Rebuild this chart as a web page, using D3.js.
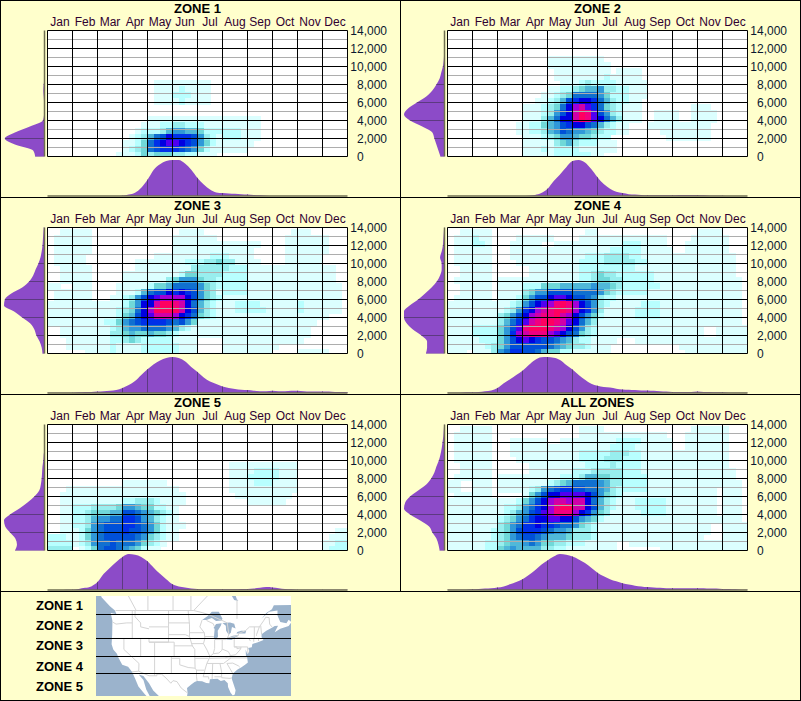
<!DOCTYPE html>
<html>
<head>
<meta charset="utf-8">
<style>
body { margin: 0; background: #ffffcc; }
text { font-family: "Liberation Sans", Arial, sans-serif; font-size: 12px; }
</style>
</head>
<body>
<svg id="svg"></svg>
<script src="https://d3js.org/d3.v7.min.js"></script>
<script>

const months = ["Jan","Feb","Mar","Apr","May","Jun","Jul","Aug","Sep","Oct","Nov","Dec"];
const yTicks = [0,2000,4000,6000,8000,10000,12000,14000];
const dotTicks = [1000,3000,5000,7000,9000,11000,13000];
const zoneNames = ["ZONE 1","ZONE 2","ZONE 3","ZONE 4","ZONE 5","ALL ZONES"];
const mapLabels = ["ZONE 1","ZONE 2","ZONE 3","ZONE 4","ZONE 5"];

// colour ramp, one hex digit per level in the heat rows below
const levelColors = ["#ffffff","#dcffff","#b8ffff","#98eeee","#70d8d8","#50b8d8","#3098d8","#1070d0",
  "#0050d8","#0030e8","#0000e0","#5000f0","#a000d8","#d000a8","#f00080","#ff0060"];

// heat rows, top (14,000) to bottom (0), 4 cells per month
const zone1Heat = ["","","","","","","","",
"0000 0000 0000 0000 0111 1111 1100",
"0000 0000 0000 0000 0111 1211 1100",
"0000 0000 0000 0000 0111 2221 1100",
"0000 0000 0000 0000 0111 1211 1100",
"","",
"0000 0000 0000 0000 1111 1111 1111 1111 1100",
"0000 0000 0000 0001 1122 3322 2111 1111 1100",
"0000 0000 0000 0012 2235 6655 4222 2221 1100",
"0000 0000 0000 0123 578a 9998 6321 2221 1100",
"0000 0000 0000 1124 79ab ba98 6421 1111 1000",
"0000 0000 0000 1234 7899 9876 4211 1111",
"0000 0000 0001 1124 3444 3322 1110"];

const zone2Heat = ["","","","",
"0000 0000 0000 0000 1111 1111 1000",
"0000 0000 0000 0000 1111 1111 1100",
"0000 0000 0000 0000 0111 1111 1101 1110",
"0000 0000 0000 0000 0111 1111 1211 1110",
"0000 0000 0000 0000 0011 1232 2221 1111",
"0000 0000 0000 0000 1122 3455 6332 2111",
"0000 0000 0000 0001 1234 7777 6422 2111",
"0000 0000 0000 0011 2358 9aa9 7532 2110",
"0000 0000 0000 1112 347a cdb9 7432 1110 0000 0001 1100",
"0000 0000 0000 1112 368a dfeb 8632 1110 0111 1001 1110",
"0000 0000 0000 1113 57aa dfeb a753 1110 0111 1001 1110",
"0000 0000 0001 1224 5689 aa87 5321 1000 1111 1111 1100",
"0000 0000 0001 1223 5687 6654 3221 1000 0011 1111 1100",
"0000 0000 0000 1112 3466 5443 2200 0000 0001 1111 1100",
"0000 0000 0000 1111 1345 3222 1110",
"0000 0000 0000 1112 1222 2111 1110",
"0000 0000 0000 1111 1222 2221 1000"];

const zone3Heat = [
"0011 1110 0000 0000 0000 0111 1000 0000 0000 0001 1100",
"0111 1110 0000 0000 0000 1111 1110 0000 0000 0011 1111 1000",
"0111 1110 0000 0000 0000 1111 1111 1111 1100 0011 1111 1000",
"0111 1110 0000 0000 0000 1111 1111 1111 1000 0011 1111 1000",
"0111 1100 0000 0000 0111 1111 1122 2111 1000 0011 1111 0000",
"0111 1100 0000 0011 1111 1122 2334 3311 1100 0011 1111 0000",
"0011 1110 0000 0011 1111 1113 3333 3222 1111 1111 1111 1100",
"0011 1110 0000 1111 1111 1244 3333 2222 1111 1111 1111 1100",
"0011 1110 0000 1111 1113 4666 4332 2222 1111 1111 1111 1100",
"1100 1110 0001 1111 2445 7777 6432 2222 1111 1111 1111 1110",
"0111 1110 0001 1125 788a 9a98 6431 2222 1111 1111 1111 1110",
"0111 1110 0011 2368 abcc cca8 6432 1111 1111 1111 1111 1110",
"1111 1111 1111 246a adff eda7 5321 1122 2211 1111 2111 1110",
"1111 1111 1112 347a cfff fda8 5321 1122 2221 1111 2111 1110",
"1111 1111 1112 458a bddd ca97 4321 1111 1111 1111 1111 1000",
"1111 1111 1224 6789 9998 7864 1111 1111 1111 1111 1110",
"0011 1111 1123 5667 7776 5321 1111 1111 1111 1111 1100",
"0011 1111 1133 4544 5443 2111 1111 1111 1111 1111 1100",
"0001 1111 1122 3432 2222 1111 0000 1111 1111 1111 1000",
"0001 1111 1121 1112 2222 2111 0000 1111 1111 1000",
"0000 0011 1121 1112 2222 2111 0000 1111 1111 0000 1111 1000"];

const zone4Heat = [
"0011 1110 0000 0000 0000 0011 0000 0000 0000 0000 1111",
"0111 2110 0001 1111 1000 0111 1111 1111 1110 0001 1111 1000",
"0111 2210 0011 1110 0111 1111 1111 2221 1110 0011 1111 1000",
"0111 1110 0011 1111 1111 1111 1122 2221 1111 0011 1111 1000",
"0111 1110 0011 1111 1111 1122 2333 3221 1111 1111 1111 1100",
"0111 1110 0001 1111 1111 1222 2333 3322 1111 1111 1111 1100",
"0011 1110 0000 0111 1111 1222 2222 2211 1111 1111 1111 1100",
"0011 1110 0000 0111 1111 1223 4332 2222 2111 1111 1111 1100",
"0111 1110 1111 1111 1111 1223 4433 2222 2111 1111 1111 1110",
"0011 1110 1111 2224 4455 5556 5543 2222 2211 1111 1111 1110",
"0011 1110 1111 3466 8888 7777 6432 2222 1111 1111 1111 1110",
"0111 1110 1112 4688 abba 8876 3221 1111 1111 1111 1111 1110",
"1111 1111 1123 68ab cefe ca86 3211 1112 2211 1111 1111 1110",
"1111 1111 1236 9acd effe ca96 3111 1122 2211 1111 1111 1110",
"1111 1111 3468 acde efdc a864 2111 1122 2211 1111 1111 1110",
"1111 1111 3579 bdef fedb a753 1111 1111 1111 1111 1111 1110",
"1111 2222 468b efff edca 8632 1111 1111 1111 1111 1001 1111",
"1111 2222 469c deee cba8 7432 1111 1111 1111 1111 1001 1111",
"1111 1222 468a ba98 8765 3221 1110 0011 1111 1111 1111 1111",
"1111 1123 4688 8888 7654 3321 1100 0000 0000 0111 1111 1111",
"1110 1113 6799 8875 4422 1111 1100 0000 0000 0011 1111 1111"];

const zone5Heat = ["","","","","","",
"0000 0000 0000 0000 0000 0000 0000 0111 1111 1111",
"0000 0000 0000 0000 0000 0000 0000 0111 1222 2111",
"0000 0000 0000 0000 0000 0000 0000 0111 2222 2111",
"0000 0000 0000 1111 1110 0000 0000 0111 1222 1111",
"0001 1111 1111 1111 1111 1000 0000 0111 1111 1111",
"0011 1111 1111 1111 1111 1100 0000 0011 1111 1110",
"0011 1111 1111 2233 3211 1100 0000 0000 1111 1100",
"0011 2223 3334 6654 4221 1000",
"0011 2234 4455 8876 5432 1000",
"0011 2235 6677 9986 5321 1000",
"0011 2236 7888 9987 6421 1100",
"0011 1246 7888 9887 6421 1000 0000 0000 0000 0000 0000 0011",
"2221 1246 7888 8876 4321 1000 0000 0000 0000 0000 0000 0111",
"2222 1236 7787 7764 3210 0000 0000 0000 0000 0000 0000 1122",
"3333 0124 7887 6542 1100 0000 0000 0000 0000 0000 0000 1222"];

const zone6Heat = [
"0011 1110 0000 0000 0000 0111 1000 0000 0000 0001 1111 1000",
"0111 1110 0000 0000 0000 0111 1111 1111 1110 0011 1111 1000",
"0111 1110 0011 1111 0011 1111 1112 2221 1111 0011 1111 1000",
"0111 1110 0011 1111 1111 1111 1122 2211 1111 0011 1111 1000",
"0111 1110 0011 1111 1111 1222 2233 3221 1111 1111 1111 1000",
"0111 1110 0001 1111 1111 1222 2333 2221 1111 1111 1111 1000",
"0011 1110 0000 0111 1111 1122 2232 2221 1111 1111 1111 1000",
"0011 1110 0000 0111 1111 2223 3333 2221 1111 1111 1111 1100",
"0111 1110 1111 1111 1122 2355 4433 2222 1111 1111 1111 1100",
"1100 1110 1111 1111 2345 7777 6533 2222 1111 1111 1111 1110",
"1100 1110 1111 1236 7899 8877 6532 2222 1111 1111 1110 1110",
"0111 1110 0000 1468 aabb bba8 6432 1111 1111 1111 1110 1110",
"1111 1111 1112 468a cddc dda7 5321 1122 2221 1111 1110 1110",
"1111 1111 1223 679a ceff dda8 5321 1122 2221 1111 1110 1110",
"1111 1111 1235 689b ceee ca96 4311 1112 2221 1111 1110 1110",
"1111 1111 2346 79aa bbaa 8654 2111 1111 1111 1111 1111 1110",
"1111 1111 3467 99a9 9877 6432 1111 1111 1111 1111 1100 1111",
"1111 1112 3468 9998 7665 3332 1111 1111 1111 1111 1100 1111",
"1111 1112 3467 8876 5554 3332 1111 1111 1111 1111 1000 1111",
"1111 1122 3455 6764 4332 2211 1110 0111 1111 1111 1111 1111",
"1111 1122 4565 5553 3221 1111 1110 0000 0011 1111 1111 1111"];

// share of the peak along the year, one value per quarter month
const zone1Month = [0,0,0,0,0,0,0,0,0,0,0,0,.01,.04,.09,.23,.45,.73,.88,.97,1,1,.9,.73,.5,.32,.18,.1,.08,.07,.06,.05,.04,.03,.02,.01,0,0,0,0,0,0,0,0,0,0,0,0,0];
const zone2Month = [0,0,0,0,0,0,0,0,0,0,0,0,0,.01,.03,.08,.2,.42,.6,.8,.97,1,.93,.75,.52,.33,.2,.12,.08,.05,.04,.03,.02,.02,.02,.02,.02,.03,.03,.03,.03,.02,.01,.01,.01,0,0,0,0];
const zone3Month = [.01,.01,.01,.01,.01,.02,.03,.03,.04,.05,.06,.08,.14,.22,.33,.5,.66,.8,.9,.97,1,.97,.88,.72,.58,.43,.32,.25,.18,.14,.11,.09,.08,.06,.05,.05,.06,.05,.05,.06,.06,.05,.04,.04,.04,.04,.03,.03,.02];
const zone4Month = [.01,.01,.01,.02,.02,.03,.05,.07,.14,.27,.38,.5,.62,.78,.92,.99,1,.98,.92,.78,.65,.5,.37,.26,.2,.17,.15,.12,.1,.09,.08,.07,.07,.06,.05,.04,.03,.03,.03,.03,.04,.03,.03,.02,.02,.01,.01,.01,.01];
const zone5Month = [0,0,0,.01,.01,.03,.06,.1,.22,.45,.62,.78,.92,1,.98,.92,.8,.62,.45,.3,.16,.1,.07,.04,.03,.02,.02,.02,.02,.02,.02,.03,.03,.04,.06,.08,.07,.05,.03,.02,.01,.01,.01,.01,.01,.01,.01,.01,.01];
const zone6Month = [.01,.01,.01,.01,.02,.03,.04,.05,.07,.1,.16,.22,.3,.42,.55,.7,.82,.93,1,.98,.93,.85,.75,.62,.48,.38,.3,.24,.19,.15,.12,.1,.08,.07,.06,.05,.05,.05,.05,.05,.05,.05,.04,.04,.03,.03,.02,.01,.01];

// share of the peak along the height, bottom to top, one value per heat row
const zone1Height = [.23,.28,.73,.98,.73,.36,.04,.01,0,.01,.02,.03,.02,0,0,0,0,0,0,0,0,0];
const zone2Height = [.1,.15,.2,.25,.3,.55,.85,1,.9,.68,.45,.3,.2,.12,.08,.04,.02,.01,0,0,0,0];
const zone3Height = [.05,.07,.12,.2,.25,.35,.55,.75,1,.98,.82,.55,.38,.28,.22,.15,.1,.07,.05,.04,.03,.02];
const zone4Height = [.46,.43,.43,.57,.78,.93,1,1,.86,.65,.48,.32,.19,.11,.07,.07,.11,.07,.04,.03,.02,.01];
const zone5Height = [.73,.68,.72,.85,.97,1,.85,.62,.42,.25,.13,.09,.07,.06,.05,.03,.02,0,0,0,0,0];
const zone6Height = [.12,.15,.2,.3,.38,.6,.85,1,.97,.85,.65,.45,.33,.25,.2,.14,.1,.07,.05,.03,.02,.01];

// map outlines, lon/lat
const landOutline = [[-132,60],[-130,56],[-128,52],[-125,50],[-123.2,49],[-122.6,48],[-123.3,48.2],[-124.7,48.4],[-124.1,46.5],[-124.2,43],[-124.4,40.4],[-123.8,39],[-122.5,37.8],[-121.9,36.6],[-120.6,34.6],[-118.5,34],[-117.1,32.5],[-116,30.5],[-114.8,28],[-112.5,25.5],[-110,23],[-110.5,24.5],[-112,27],[-113,30],[-114.7,31.7],[-113,31.2],[-111,29],[-109.5,26.7],[-107,24.5],[-105.5,22],[-105,19],[-97,19],[-97.8,22.5],[-97.2,25.9],[-97.4,27.5],[-96,28.5],[-94.7,29.4],[-93.8,29.7],[-92,29.6],[-90.5,29.1],[-89.4,29],[-89.2,30.2],[-88,30.3],[-86.5,30.4],[-85.3,29.7],[-84,30],[-82.8,29],[-82.7,27.8],[-81.8,26],[-81,25.1],[-80.3,25.4],[-80,26.8],[-80.6,28.4],[-81.4,30.5],[-81,32],[-79.3,33.2],[-77.9,33.9],[-76.5,34.7],[-75.6,35.3],[-75.9,36.8],[-76.3,37.3],[-76.4,39],[-75.9,37.9],[-75.5,37.9],[-75.1,38.6],[-75.5,39.4],[-74.2,39.6],[-74,40.5],[-72,41],[-70,41.6],[-70.7,42.3],[-70.7,43.1],[-69,44],[-67,44.8],[-66,45.2],[-64.8,45.3],[-66,43.6],[-64,44.5],[-61,45.2],[-60,46.2],[-61,46.8],[-61.8,45.9],[-64,46.2],[-65,47.8],[-65,49],[-68,48.7],[-70.7,47],[-69,48.4],[-67,49.3],[-66.3,50.2],[-60,50.3],[-56,52],[-56,60]];
const waterBodies = [
  [[-92,46.7],[-90,47.7],[-88.5,48.7],[-86,48.7],[-84.7,47],[-85,46.6],[-87,46.5],[-88.5,47.2],[-90.5,46.7]],
  [[-87.8,42],[-87,41.6],[-86.3,42.5],[-86.4,44],[-85.3,45.3],[-85,45.9],[-87,45.7],[-87.9,44.7],[-87.5,44.5]],
  [[-84.7,46],[-83.5,45.3],[-83.4,44],[-82.5,43],[-81.7,43.5],[-81.3,45],[-80,44.6],[-80.5,45.8],[-82,46.1]],
  [[-83.4,41.7],[-81.5,41.6],[-79,42.7],[-79.2,42.9],[-81,42.7],[-83,42.1]],
  [[-79.7,43.3],[-76.5,43.3],[-76.2,44],[-78,44],[-79.4,43.7]],
  [[-81,54],[-79.5,51.5],[-79,51.2],[-80.5,51.4],[-82,53]]
];
const borderLines = [
  [[-123,49],[-95,49],[-92,48.5],[-89.5,48],[-84.5,46.5],[-83,46],[-82.4,43],[-83,42],[-79,42.8],[-79,43.3],[-76.5,44],[-75,45],[-71.5,45],[-70,46.5],[-69.2,47.4],[-68,47.3],[-67.8,45.7],[-67,45]],
  [[-117.1,32.5],[-114.7,32.7],[-111,31.3],[-108.2,31.3],[-108.2,31.8],[-106.5,31.8],[-104.9,30.6],[-103.2,29],[-102.4,29.8],[-101,29.5],[-99.5,27.5],[-97.2,25.9]],
  [[-124,46.2],[-122.8,45.7],[-119,46],[-117,46]],[[-117,49],[-117,42]],[[-124.2,42],[-111,42]],
  [[-120,42],[-120,39],[-114.6,35],[-114.7,32.7]],[[-114,42],[-114,37]],[[-114,37],[-94.6,37]],
  [[-111,42],[-111,41],[-109,41],[-109,31.3]],[[-111,45],[-104,45],[-104,41],[-111,41]],[[-109,41],[-102,41],[-102,37]],
  [[-103,37],[-103,32],[-106.6,32]],[[-103,36.5],[-100,36.5],[-100,34.6],[-97,33.8],[-94.5,33.6],[-94,33],[-94,31],[-93.8,29.7]],
  [[-102,40],[-95.3,40]],[[-104,43],[-98,43],[-96.5,42.5],[-95.5,40],[-94.6,39],[-94.6,36.5],[-94.5,33.6]],
  [[-104,49],[-104,45]],[[-104,46],[-96.6,46]],[[-97,49],[-96.5,45.5],[-96.5,42.5]],
  [[-116,49],[-116,47.5],[-114,46],[-114,45],[-111,44.5]],[[-96.5,43.5],[-91.2,43.5]],[[-95.8,40.6],[-91.5,40.6]],
  [[-92,46.7],[-92.8,45],[-91.2,43.5],[-91,42],[-91.5,40.6],[-90.2,38.8],[-89.2,37],[-89.7,36],[-90.3,35],[-91,33],[-91.6,31],[-89.7,31],[-89.6,30.2]],
  [[-94.6,36.5],[-89.7,36.5]],[[-94,33],[-91.2,33]],
  [[-89.2,37],[-88,37.8],[-86,38],[-85,38.7],[-84.8,39.1],[-82.6,38.4],[-82,37.5],[-81.7,37.3],[-83.7,36.6],[-89.4,36.5]],
  [[-90.2,35],[-84.3,35],[-81.7,36.6]],[[-83.7,36.6],[-75.9,36.6]],[[-87.5,41.7],[-87.5,39.3],[-88,37.8]],[[-84.8,39.1],[-84.8,41.7]],
  [[-87,41.7],[-83.4,41.7]],[[-91,42.5],[-87.8,42.5]],[[-90.4,46.6],[-88,45.8],[-87.6,45.1]],[[-88.2,35],[-88.4,30.3]],
  [[-85.6,35],[-85,32.5],[-85,31],[-84.9,30.7]],[[-87.6,31],[-85,31]],[[-85,30.7],[-82,30.5],[-81.4,30.7]],[[-83.1,35],[-81,32]],
  [[-83.1,35],[-81,35.1],[-79,34.3],[-78.5,33.9]],[[-80.5,42],[-80.5,39.7],[-75.7,39.7]],[[-79.8,42.3],[-75.3,42],[-74.7,41.3]],
  [[-73.3,45],[-73.3,42],[-71.2,42]],[[-73.5,41.1],[-73.5,42]],[[-71.8,41.3],[-71.8,42]],[[-71.5,45],[-72.5,43],[-72.5,42.7]],
  [[-71,45.3],[-70.7,43.1]],[[-80.5,39.7],[-79.5,39.7],[-79.5,39.2],[-78,39.5],[-78.5,38.8],[-80,37.5],[-81.7,37.3]],[[-75.7,39.7],[-75.6,38]],
  [[-111.4,49],[-111.4,54]],[[-102.4,49],[-102.4,54]],[[-96,49],[-96,54]],[[-115.6,49],[-119,53]],[[-95,49],[-89,53]],[[-79.5,47],[-79.5,51.5]]
];
// zone limits on the map, as latitudes
const zoneLimits = [48.1,42.2,37.2,32];

const zones = zoneNames.map((name,i) => ({
  name: name,
  heat: [zone1Heat,zone2Heat,zone3Heat,zone4Heat,zone5Heat,zone6Heat][i],
  month: [zone1Month,zone2Month,zone3Month,zone4Month,zone5Month,zone6Month][i],
  height: [zone1Height,zone2Height,zone3Height,zone4Height,zone5Height,zone6Height][i]
}));

const plotW = 300, plotH = 126;
const purple = "#8c4bc8", purpleLine = "#5c3a80", baseLine = "#6e6e50";

const svg = d3.select("#svg").attr("width",801).attr("height",701)
  .style("display","block").style("background","#ffffcc");

const x = d3.scaleLinear().domain([0,12]).range([0,plotW]);
const y = d3.scaleLinear().domain([0,14000]).range([plotH,0]);
const monthBand = d3.scaleBand().domain(months).range([0,plotW]);
const rowStep = 14000/21;
const color = d => levelColors[parseInt(d,16)];
const monthShare = d3.scaleLinear().domain([0,1]).range([165.5,129.5]);
const heightShare = d3.scaleLinear().domain([0,1]).range([-3,-43.5]);

const monthArea = d3.area().curve(d3.curveMonotoneX)
  .x((d,i) => x(i/4)).y0(monthShare(0)).y1(d => monthShare(d));
const heightArea = d3.area().curve(d3.curveMonotoneY)
  .y((d,i) => y(i*rowStep)).x0(heightShare(0)).x1(d => heightShare(d));

zones.forEach((zone,p) => {
  const left = p % 2 ? 447.5 : 47.5;
  const top = 30.5 + 197*Math.floor(p/2);
  const g = svg.append("g").attr("transform",`translate(${left},${top})`);

  g.append("text").attr("x",plotW/2).attr("y",-17.5).attr("text-anchor","middle")
    .style("font-weight","bold").style("font-size","13px").attr("fill","#000").text(zone.name);

  g.append("rect").attr("width",plotW).attr("height",plotH).attr("fill","#fff");

  g.append("clipPath").attr("id","plot"+p).append("rect").attr("width",plotW).attr("height",plotH);
  const cells = g.append("g").attr("clip-path",`url(#plot${p})`).attr("shape-rendering","crispEdges");
  zone.heat.forEach((row,r) => {
    const levels = row.replace(/ /g,"").split("");
    cells.selectAll(null).data(levels.map((d,c) => ({d,c})).filter(e => e.d !== "0")).enter().append("rect")
      .attr("x",e => x(e.c/4)).attr("y",y(14000 - r*rowStep) + 1.5)
      .attr("width",x(.25)+.5).attr("height",y(14000-rowStep)+.5)
      .attr("fill",e => color(e.d));
  });

  // dotted thousands, white under grey so they show on the dark cells
  g.selectAll(".dotW").data(dotTicks).enter().append("line")
    .attr("x2",plotW).attr("y1",d => y(d)).attr("y2",d => y(d)).attr("stroke","#fff");
  g.selectAll(".dot").data(dotTicks).enter().append("line")
    .attr("x2",plotW).attr("y1",d => y(d)).attr("y2",d => y(d)).attr("stroke","#5a5a5a").attr("stroke-dasharray","1 1");

  g.selectAll(".h").data(yTicks).enter().append("line")
    .attr("x2",plotW).attr("y1",d => y(d)).attr("y2",d => y(d)).attr("stroke","#000");
  g.selectAll(".v").data(d3.range(13)).enter().append("line")
    .attr("x1",d => x(d)).attr("x2",d => x(d)).attr("y2",plotH).attr("stroke","#000");

  const topAxis = g.append("g").call(d3.axisTop(monthBand).tickSize(0).tickPadding(4.5));
  topAxis.select(".domain").remove();
  topAxis.selectAll("text").attr("fill","#300030").style("font-size","12px").style("font-family","'Liberation Sans'");

  const rightAxis = g.append("g").attr("transform",`translate(${plotW},0)`)
    .call(d3.axisRight(y).tickValues(yTicks).tickFormat(d3.format(",")).tickSize(0).tickPadding(39.5));
  rightAxis.select(".domain").remove();
  rightAxis.selectAll("text").attr("fill","#0a1830").attr("text-anchor","end")
    .style("font-size","12px").style("font-family","'Liberation Sans'");
  rightAxis.selectAll("text").filter(d => d === 0).attr("text-anchor","start").attr("x",9.5);

  // bottom profile
  const md = monthArea(zone.month);
  g.append("clipPath").attr("id","month"+p).append("path").attr("d",md);
  g.append("path").attr("d",md).attr("fill",purple);
  g.append("g").attr("clip-path",`url(#month${p})`).selectAll("line").data(d3.range(13)).enter().append("line")
    .attr("x1",d => x(d)).attr("x2",d => x(d)).attr("y1",monthShare(1)).attr("y2",monthShare(0)).attr("stroke",purpleLine);
  g.append("line").attr("x2",plotW).attr("y1",monthShare(0)).attr("y2",monthShare(0))
    .attr("stroke",baseLine).attr("stroke-width",1.5);

  // left profile
  const hd = heightArea(zone.height);
  g.append("clipPath").attr("id","height"+p).append("path").attr("d",hd);
  g.append("path").attr("d",hd).attr("fill",purple);
  g.append("g").attr("clip-path",`url(#height${p})`).selectAll("line").data(yTicks).enter().append("line")
    .attr("x1",heightShare(1)).attr("x2",heightShare(0)).attr("y1",d => y(d)).attr("y2",d => y(d)).attr("stroke",purpleLine);
  g.append("line").attr("x1",heightShare(0)).attr("x2",heightShare(0)).attr("y2",plotH)
    .attr("stroke",baseLine).attr("stroke-width",1.5);
});

// frame
const frameH = [0.5,197.5,394.5,591.5,700.5];
const frameV = [0.5,800.5];
svg.selectAll(".fh").data(frameH).enter().append("line")
  .attr("x2",801).attr("y1",d => d).attr("y2",d => d).attr("stroke","#000");
svg.selectAll(".fv").data(frameV).enter().append("line")
  .attr("x1",d => d).attr("x2",d => d).attr("y2",701).attr("stroke","#000");
svg.append("line").attr("x1",400.5).attr("x2",400.5).attr("y1",0).attr("y2",591.5).attr("stroke","#000");

// map
const proj = d3.geoMercator().scale(160).translate([459,767.9]);
const outline = d3.line();
const toPath = pts => outline(pts.map(proj));
svg.append("clipPath").attr("id","mapClip").append("rect")
  .attr("x",96).attr("y",596).attr("width",195).attr("height",100);
const map = svg.append("g").attr("clip-path","url(#mapClip)");
map.append("rect").attr("x",96).attr("y",596).attr("width",195).attr("height",100).attr("fill","#9bb3cc");
map.append("path").attr("d",toPath(landOutline)+"Z").attr("fill","#fff");
map.selectAll(".lake").data(waterBodies).enter().append("path").attr("d",d => toPath(d)+"Z").attr("fill","#9bb3cc");
map.selectAll(".state").data(borderLines).enter().append("path").attr("d",toPath).attr("fill","none").attr("stroke","#d4d4d4");
map.selectAll(".limit").data(zoneLimits).enter().append("line")
  .attr("x1",96).attr("x2",291)
  .attr("y1",d => Math.round(proj([-100,d])[1])+.5).attr("y2",d => Math.round(proj([-100,d])[1])+.5)
  .attr("stroke","#000");

const labelY = d3.scalePoint().domain(mapLabels).range([609.5,691]);
svg.selectAll(".mapLabel").data(mapLabels).enter().append("text")
  .attr("x",36).attr("y",d => labelY(d)).attr("fill","#000")
  .style("font-weight","bold").style("font-size","13px").text(d => d);

</script>
</body>
</html>
